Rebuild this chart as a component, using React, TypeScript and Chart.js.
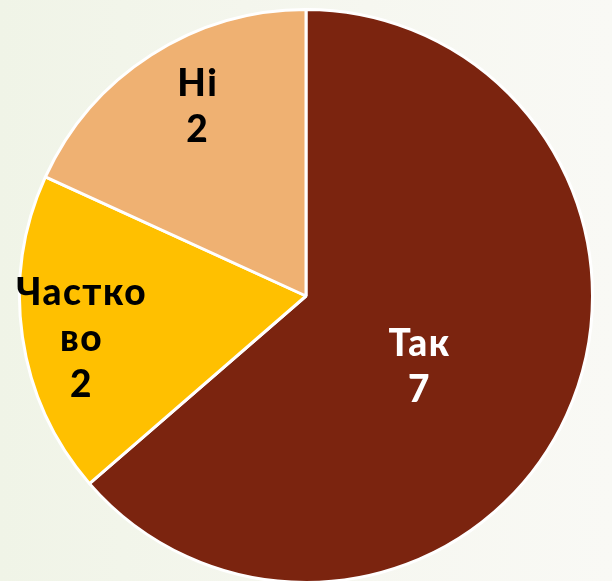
import React, { useEffect, useRef } from "react";
import { Chart, registerables } from "chart.js";

Chart.register(...registerables);

const categories = ["Так", "Частково", "Ні"];
const labelLines = [["Так", "7"], ["Частко", "во", "2"], ["Ні", "2"]];
const values = [7, 2, 2];
const colors = ["#7B240F", "#FFC000", "#EFB172"];
const textColors = ["#FFFFFF", "#000000", "#000000"];
// label placement: fraction of radius, angular shift (deg) from slice middle
const labelRadiusFrac = [0.465, 0.8, 0.76];
const labelAngleShift = [7.6, -2.6, 2.7];

const labelPlugin = {
  id: "sliceLabels",
  afterDatasetsDraw(chart: any) {
    const ctx = chart.ctx;
    const meta = chart.getDatasetMeta(0);
    ctx.save();
    ctx.font = "900 37px Lato, 'DejaVu Sans', sans-serif";
    try {
      (ctx as any).letterSpacing = "1.5px";
    } catch (e) {}
    ctx.textAlign = "center";
    ctx.textBaseline = "middle";
    meta.data.forEach((arc: any, i: number) => {
      const { x, y, startAngle, endAngle, outerRadius } = arc.getProps(
        ["x", "y", "startAngle", "endAngle", "outerRadius"],
        true
      );
      const mid = (startAngle + endAngle) / 2 + (labelAngleShift[i] * Math.PI) / 180;
      const r = outerRadius * labelRadiusFrac[i];
      const cx = x + Math.cos(mid) * r;
      const cy = y + Math.sin(mid) * r;
      const lines = labelLines[i];
      const lh = 46;
      const top = cy - ((lines.length - 1) * lh) / 2;
      ctx.fillStyle = textColors[i];
      lines.forEach((t, k) => ctx.fillText(t, cx + 0.75, top + k * lh));
    });
    ctx.restore();
  },
};

export default function App() {
  const ref = useRef<HTMLCanvasElement>(null);
  useEffect(() => {
    document.body.style.margin = "0";
    const chart = new Chart(ref.current!, {
      type: "pie",
      data: {
        labels: categories,
        datasets: [
          {
            data: values,
            backgroundColor: colors,
            borderColor: "#FFFFFF",
            borderWidth: 3,
          },
        ],
      },
      options: {
        animation: false,
        responsive: false,
        layout: { padding: { top: 8, bottom: 16, left: 18, right: 18 } },
        plugins: { legend: { display: false }, tooltip: { enabled: false } },
      },
      plugins: [labelPlugin],
    });
    return () => chart.destroy();
  }, []);
  return (
    <div
      style={{
        position: "fixed",
        left: 0,
        top: 0,
        width: 612,
        height: 581,
        overflow: "hidden",
        background: "linear-gradient(90deg, #F0F4E7 0%, #F6F7F0 60%, #F9F9F5 100%)",
      }}
    >
      <canvas ref={ref} width={612} height={600} style={{ display: "block" }} />
    </div>
  );
}
